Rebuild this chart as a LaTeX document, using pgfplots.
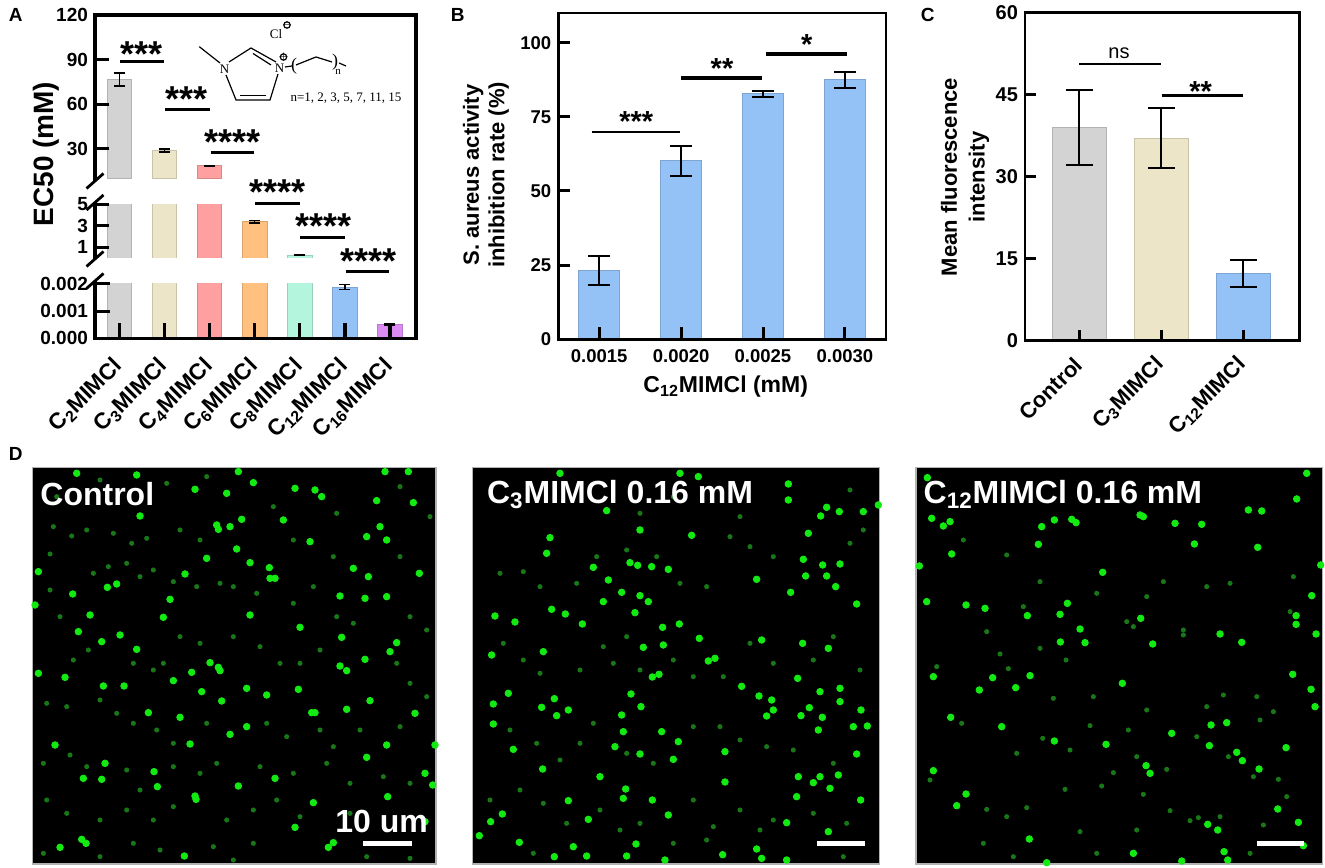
\documentclass[border=0pt]{standalone}
\usepackage{fontspec}
\setmainfont{Liberation Sans}
\newfontfamily\seriffont{Liberation Serif}
\usepackage{pgfplots}
\pgfplotsset{compat=1.18}
\definecolor{cgray}{HTML}{D3D3D3}
\definecolor{cbeige}{HTML}{EDE5C8}
\definecolor{cred}{HTML}{FFA0A0}
\definecolor{corange}{HTML}{FFC080}
\definecolor{cmint}{HTML}{B3F5DD}
\definecolor{cblue}{HTML}{94C2F7}
\definecolor{cpurple}{HTML}{DA8CF2}
\definecolor{gbright}{HTML}{12EA12}
\definecolor{gdim}{HTML}{187818}
\newcommand\fs[1]{\fontsize{#1}{#1}\selectfont}
\pgfplotsset{
  base/.style={scale only axis, anchor=south west, axis on top, tick align=inside,
    xtick pos=bottom, ytick pos=left,
    clip mode=global, major tick style={black, line width=1.5pt},
    major x tick style={draw=none},
    /pgf/number format/assume math mode=true, scaled y ticks=false, scaled x ticks=false,
    minor tick num=0},
  errA/.style={error bars/.cd, y dir=both, y explicit, error bar style={black,line width=0.75pt},
    error mark options={rotate=90,black,line width=0.75pt,mark size=2.75pt}},
  errB/.style={error bars/.cd, y dir=both, y explicit, error bar style={black,line width=1pt},
    error mark options={rotate=90,black,line width=1pt,mark size=5.4pt}},
  errC/.style={error bars/.cd, y dir=both, y explicit, error bar style={black,line width=1pt},
    error mark options={rotate=90,black,line width=1pt,mark size=6.75pt}},
  Aseg/.style={base, width=160.5pt, xmin=-0.543, xmax=6.577, ybar, bar width=0.54, bar shift=0pt,
    axis line style={draw=none}, major tick length=7pt,
    yticklabel style={font=\bfseries\fs{9.5}}},
  micro/.style={base, width=203.5pt, height=198.35pt, ymin=112, ymax=1302, y dir=reverse,
    ticks=none, axis line style={gray!60, line width=0.6pt},
    axis background/.style={fill=black}, clip=true},
  bright/.style={only marks, mark=*, mark size=1.65pt, color=gbright},
  dim/.style={only marks, mark=*, mark size=1.05pt, color=gdim},
}
\newcommand\bE[4]{\addplot[fill=#1, draw=#1!85!black, line width=0.4pt, errA] coordinates {(#2,#3) +- (0,#4)};}
\newcommand\bN[3]{\addplot[fill=#1, draw=#1!85!black, line width=0.4pt] coordinates {(#2,#3)};}
\begin{document}
\begin{tikzpicture}
\path[use as bounding box] (0,0) rectangle (662.5pt,433.5pt);
% ---------------- Panel A (broken axis) ----------------
\begin{axis}[Aseg, at={(47.5pt,344.25pt)}, height=81.75pt, ymin=10, ymax=120,
  ytick={30,60,90,120}, xtick=\empty]
\bE{cgray}{0}{76.5}{4.4}
\bE{cbeige}{1}{28.9}{1.0}
\bE{cred}{2}{18.5}{0.3}
\end{axis}
\begin{axis}[Aseg, at={(47.5pt,304.5pt)}, height=26.75pt, ymin=0, ymax=5,
  restrict y to domain*=0:6, ytick={1,3,5}, xtick=\empty]
\bN{cgray}{0}{76.5}
\bN{cbeige}{1}{28.9}
\bN{cred}{2}{18.5}
\bE{corange}{3}{3.4}{0.12}
\bE{cmint}{4}{0.25}{0.02}
\end{axis}
\begin{axis}[Aseg, at={(47.5pt,264.35pt)}, height=27.15pt, ymin=0, ymax=0.002,
  restrict y to domain*=0:0.0025,
  ytick={0,0.001,0.002}, yticklabels={0.000,0.001,0.002},
  xtick={0,1,2,3,4,5,6}, major tick length=7.5pt,
  xticklabels={C\textsubscript{2}MIMCl,C\textsubscript{3}MIMCl,C\textsubscript{4}MIMCl,C\textsubscript{6}MIMCl,C\textsubscript{8}MIMCl,C\textsubscript{12}MIMCl,C\textsubscript{16}MIMCl},
  xticklabel style={rotate=45, anchor=east, font=\bfseries\fs{11.3}, yshift=-3pt}]
\bN{cgray}{0}{76.5}
\bN{cbeige}{1}{28.9}
\bN{cred}{2}{18.5}
\bN{corange}{3}{3.4}
\bN{cmint}{4}{0.25}
\bE{cblue}{5}{0.00189}{0.0001}
\bE{cpurple}{6}{0.00052}{0.00003}
\end{axis}
% ---------------- Panel B ----------------
\begin{axis}[base, at={(279.15pt,263.85pt)}, width=163.75pt, height=163.15pt,
  xmin=-0.5, xmax=3.5, ymin=0, ymax=110, ybar, bar width=0.5, bar shift=0pt,
  axis line style={line width=1.3pt}, major tick length=6pt,
  ytick={0,25,50,75,100}, xtick={0,1,2,3}, xticklabels={0.0015,0.0020,0.0025,0.0030},
  ticklabel style={font=\bfseries\fs{9.25}}, xticklabel style={yshift=4.5pt}]
\addplot[fill=cblue, draw=cblue!85!black, line width=0.4pt, errB] coordinates {
  (0,23.1) +- (0,4.9) (1,60.2) +- (0,5.1) (2,82.8) +- (0,1.0) (3,87.5) +- (0,2.7)};
\end{axis}
% ---------------- Panel C ----------------
\begin{axis}[base, at={(512.5pt,263.15pt)}, width=137.1pt, height=164.1pt,
  xmin=-0.66, xmax=2.68, ymin=0, ymax=60, ybar, bar width=0.66, bar shift=0pt,
  axis line style={line width=1.3pt}, major tick length=5.6pt,
  ytick={0,15,30,45,60}, xtick={0,1,2},
  xticklabels={Control,C\textsubscript{3}MIMCl,C\textsubscript{12}MIMCl},
  yticklabel style={font=\bfseries\fs{10}},
  xticklabel style={rotate=45, anchor=east, font=\bfseries\fs{11}, yshift=-3pt}]
\addplot[fill=cgray, draw=cgray!85!black, line width=0.4pt, errC] coordinates {(0,38.95) +- (0,6.85)};
\addplot[fill=cbeige, draw=cbeige!85!black, line width=0.4pt, errC] coordinates {(1,37.0) +- (0,5.5)};
\addplot[fill=cblue, draw=cblue!85!black, line width=0.4pt, errC] coordinates {(2,12.25) +- (0,2.5)};
\end{axis}
% ---------------- Panel D images ----------------
\begin{axis}[micro, at={(16.35pt,1.5pt)}, width=201.65pt, xmin=98, xmax=1308]
\addplot[dim] coordinates {(160,290)(215,318)(260,300)(340,310)(440,325)(395,340)(150,372)(325,410)(420,440)(460,420)(520,455)(590,470)(660,460)(700,470)(770,490)(880,520)(940,470)(1010,560)(1060,580)(1230,560)(1280,600)(180,560)(220,690)(265,660)(400,700)(460,720)(490,700)(540,620)(600,640)(700,620)(780,650)(840,700)(900,700)(960,660)(1190,700)(1230,760)(1280,800)(140,820)(200,830)(300,810)(350,850)(400,880)(470,900)(520,940)(620,880)(800,880)(860,920)(960,900)(1000,950)(1080,900)(1200,890)(130,1000)(210,975)(260,1010)(380,1020)(420,1080)(520,1010)(600,1030)(650,1000)(780,1010)(880,1030)(980,1000)(1050,1060)(1150,1040)(1230,1060)(140,1110)(200,1150)(300,1170)(380,1140)(460,1170)(520,1130)(680,1170)(760,1140)(830,1110)(900,1160)(1050,1150)(130,1270)(300,1280)(400,1240)(480,1260)(640,1250)(700,1290)(760,1240)(1100,1280)(1230,1285)(170,200)(300,150)(500,160)(620,140)(820,230)(1010,250)(1200,170)(1290,260)(540,300)(600,330)(880,330)(1000,380)(1200,380)(150,480)(280,430)(380,400)};
\addplot[bright] coordinates {(230,130)(410,135)(715,125)(1155,125)(1225,125)(585,178)(760,158)(885,175)(965,200)(1130,212)(1240,218)(680,190)(945,180)(420,258)(725,268)(850,270)(650,285)(655,298)(690,290)(1140,290)(1160,330)(1100,320)(930,335)(710,357)(620,385)(750,398)(115,425)(555,432)(808,413)(810,445)(825,445)(1060,415)(1105,440)(1258,430)(350,462)(322,472)(218,492)(510,508)(1020,498)(1095,505)(1160,500)(270,555)(490,562)(750,555)(105,525)(235,605)(360,615)(305,635)(410,658)(900,592)(1025,622)(1190,638)(1170,665)(115,730)(195,742)(310,768)(372,768)(520,752)(630,698)(655,712)(660,722)(575,727)(605,785)(740,775)(800,795)(895,778)(1020,708)(1040,722)(1095,688)(1110,812)(1040,838)(935,848)(945,848)(1245,850)(445,848)(540,862)(665,813)(690,913)(740,890)(570,942)(165,945)(1305,945)(1160,945)(315,1000)(305,1048)(250,1045)(462,1025)(472,1070)(825,1045)(715,1068)(1100,982)(1275,1030)(585,1098)(588,1108)(940,1118)(1163,1100)(1298,1065)(180,1252)(245,1228)(258,1240)(553,1278)(885,1192)(985,1252)(1000,1238)(1275,1175)};
\end{axis}
\begin{axis}[micro, at={(236.15pt,1.5pt)}, xmin=97, xmax=1318]
\addplot[dim] coordinates {(180,430)(250,425)(300,470)(410,460)(470,380)(560,360)(650,380)(720,460)(800,470)(870,320)(930,350)(1000,380)(1230,340)(1270,300)(190,640)(250,690)(300,730)(420,720)(490,650)(520,700)(560,620)(600,720)(700,690)(760,740)(850,740)(930,640)(1000,700)(1120,690)(1180,620)(1260,720)(210,900)(290,940)(360,990)(420,940)(460,880)(560,970)(640,1000)(760,890)(840,890)(900,930)(980,950)(1060,960)(1180,1000)(240,1080)(310,1120)(380,1180)(480,1140)(540,1200)(600,1180)(760,1110)(820,1190)(900,1140)(960,1200)(1000,1170)(1120,1150)(1220,1180)(150,1110)(280,1270)(700,1240)(800,1230)(1210,1280)(600,250)(700,200)(900,260)(1230,180)};
\addplot[bright] coordinates {(360,130)(720,130)(775,140)(1045,162)(1045,210)(1270,245)(1315,225)(1160,232)(1198,245)(1142,258)(500,242)(600,300)(755,316)(330,323)(320,370)(1105,310)(1090,388)(1148,405)(1200,402)(1160,438)(1097,438)(1187,470)(1052,487)(950,448)(570,398)(593,406)(685,418)(635,410)(460,412)(505,450)(545,487)(600,497)(625,515)(490,515)(335,538)(376,552)(165,558)(225,576)(427,582)(585,548)(668,592)(718,582)(778,625)(965,630)(1088,640)(1165,655)(1250,522)(155,675)(310,665)(610,652)(670,645)(805,693)(825,685)(637,741)(657,733)(1073,745)(205,790)(160,822)(343,806)(305,832)(350,857)(385,840)(573,792)(603,830)(545,855)(905,769)(957,798)(995,810)(980,858)(1000,840)(1108,833)(1083,857)(1140,785)(1200,775)(1200,815)(1147,862)(1263,840)(1282,888)(1240,890)(1135,900)(160,882)(550,905)(665,905)(715,935)(525,950)(600,972)(700,988)(855,965)(1250,972)(220,958)(308,1017)(480,1040)(855,1056)(1075,1040)(1120,1058)(1140,1040)(1195,1035)(1170,1075)(1070,1100)(1262,1110)(385,1112)(557,1077)(550,1105)(637,1110)(685,1155)(187,1152)(152,1175)(445,1168)(118,1217)(238,1237)(400,1250)(588,1242)(1165,1205)(1040,1178)(343,1280)(440,1278)(560,1278)(675,1290)(848,1274)(950,1257)(965,1285)(1040,1290)};
\end{axis}
\begin{axis}[micro, at={(458pt,1.5pt)}, width=203.35pt, xmin=108, xmax=1328]
\addplot[dim] coordinates {(250,330)(380,375)(480,455)(430,530)(650,490)(740,575)(760,590)(800,500)(850,455)(980,470)(1050,460)(1240,440)(1230,545)(910,600)(910,615)(320,605)(360,672)(385,716)(480,655)(558,690)(170,710)(520,805)(640,800)(800,840)(980,830)(1030,795)(1130,800)(1180,845)(1140,870)(245,880)(410,970)(488,925)(570,960)(630,887)(745,900)(770,980)(665,1068)(700,1028)(860,1018)(950,920)(1045,980)(1195,1048)(1120,1040)(150,1050)(320,1138)(380,1160)(440,1133)(555,1078)(600,1205)(770,1200)(790,1093)(870,1142)(930,1172)(955,1163)(1150,1185)(1020,1160)(1220,1100)(310,1240)(400,1280)(650,1270)(1110,1270)};
\addplot[bright] coordinates {(142,143)(1280,130)(1250,207)(780,255)(790,260)(588,278)(575,268)(523,270)(485,290)(1105,240)(1145,243)(885,280)(965,283)(190,288)(210,275)(155,265)(475,343)(1133,352)(943,342)(215,372)(118,408)(668,427)(1322,405)(140,515)(258,525)(315,535)(562,520)(540,553)(442,557)(782,565)(600,597)(541,636)(615,638)(818,642)(1085,637)(1020,612)(1248,583)(1248,557)(1295,497)(1308,612)(160,740)(338,743)(450,737)(727,760)(407,773)(298,780)(1238,733)(1293,778)(212,862)(365,890)(875,910)(993,885)(988,947)(1040,878)(1070,967)(1087,992)(1218,953)(678,943)(523,933)(1305,830)(160,1022)(798,1007)(810,1030)(1137,1017)(258,1092)(230,1127)(1193,1137)(983,1183)(1013,1200)(1255,1177)(448,1227)(760,1270)(1032,1265)(1270,1247)(500,1298)(905,1293)(1043,1290)};
\end{axis}
% ---------------- annotations in pixel coordinates ----------------
\begin{scope}[x=0.5pt,y=-0.5pt,shift={(0pt,433.5pt)}]
\node[font=\bfseries\fs{9.5}] at (15.7,15) {A};
\node[font=\bfseries\fs{9.5}] at (457.7,15) {B};
\node[font=\bfseries\fs{9.5}] at (927.7,15) {C};
\node[font=\bfseries\fs{9.5}] at (15.7,454) {D};
\draw[line width=1.6pt] (95,181) -- (95,15) -- (416,15) -- (416,338.3) -- (95,338.3) -- (95,281);
\draw[line width=1.6pt] (95,202.5) -- (95,259);
\foreach \c in {181,202.5,259,281} \draw[line width=1.4pt] (86.5,\c+7.5) -- (103.5,\c-7.5);
% inward x ticks
\foreach \k in {0,...,6} \draw[line width=1.6pt] ({119.5+45.08*\k},338.3) -- ({119.5+45.08*\k},323);
\foreach \x in {599.2,681.1,763,844.8} \draw[line width=1.5pt] (\x,339.3) -- (\x,326.7);
\foreach \x in {1079.2,1161.3,1243.4} \draw[line width=1.5pt] (\x,340.7) -- (\x,330);
\node[rotate=90, font=\bfseries\fs{14}] at (46,154) {EC50 (mM)};
\foreach \xa/\xb/\yl/\xs/\ys/\st in {120/164.3/61.7/142/45.8/{***},165/210/109.3/187/90.8/{***},210.7/254.3/152.7/232.5/134/{****},255/300/203.3/278/184/{****},300/345/237.7/323.5/218/{****},346/389/271.7/368.7/252.5/{****}}{
  \draw[line width=1.6pt] (\xa,\yl) -- (\xb,\yl);
  \node[anchor=base, font=\bfseries\fs{18}, inner sep=0pt] at (\xs,\ys+20.7) {\st};
}
\begin{scope}[line width=0.6pt]
\draw (199.3,46.7) -- (220,63);
\draw (229,62) -- (251,48) -- (276,62);
\draw (253,53.5) -- (271,65);
\draw (278,74) -- (270,100) -- (236,100) -- (226,75);
\draw (240,95.5) -- (266,95.5);
\draw (285,67) -- (292,66);
\draw (296,65) -- (316,57) -- (332,62);
\draw (339,63) -- (346,66);
\draw (287,25) circle (3.2);
\draw (283.5,57) circle (3.2);
\end{scope}
\node[font=\seriffont\fs{6.5}, inner sep=0pt] at (224.5,69.5) {N};
\node[font=\seriffont\fs{6.5}, inner sep=0pt] at (279.5,68.5) {N};
\node[font=\seriffont\fs{6.5}, inner sep=0pt] at (276,34) {Cl};
\node[font=\fs{4.5}, inner sep=0pt] at (287,25) {$-$};
\node[font=\fs{4.5}, inner sep=0pt] at (283.5,57) {$+$};
\node[font=\seriffont\fs{9}, inner sep=0pt] at (294,66) {(};
\node[font=\seriffont\fs{9}, inner sep=0pt] at (335,62) {)};
\node[font=\seriffont\fs{5.5}, inner sep=0pt] at (338,72) {n};
\node[font=\seriffont\fs{6.5}, inner sep=0pt] at (346,98) {n=1, 2, 3, 5, 7, 11, 15};
\node[rotate=90, align=center, font=\bfseries\fontsize{11}{12.8}\selectfont] at (486,175) {S. aureus activity\\inhibition rate (\%)};
\node[anchor=base, font=\bfseries\fs{11.5}] at (725.7,393) {C\textsubscript{12}MIMCl (mM)};
\draw[line width=1.1pt] (591.7,131.7) -- (680,131.7);
\draw[line width=2pt] (680.7,77.7) -- (762.3,77.7);
\draw[line width=2pt] (766,54.3) -- (847,54.3);
\node[anchor=base, font=\bfseries\fs{14.5}, inner sep=0pt] at (636.3,115+16.7) {***};
\node[anchor=base, font=\bfseries\fs{14.5}, inner sep=0pt] at (722,61.7+16.7) {**};
\node[anchor=base, font=\bfseries\fs{14.5}, inner sep=0pt] at (806.7,38.3+16.7) {*};
\node[rotate=90, align=center, font=\bfseries\fontsize{11}{13.8}\selectfont] at (965,177) {Mean fluorescence\\intensity};
\draw[line width=1.1pt] (1079.3,64.3) -- (1161,64.3);
\draw[line width=1.8pt] (1161.7,95.7) -- (1242.7,95.7);
\node[anchor=base, font=\fs{10}, inner sep=0pt] at (1119,58.2) {ns};
\node[anchor=base, font=\bfseries\fs{14.5}, inner sep=0pt] at (1200.7,85+16.7) {**};
\node[anchor=base west, inner sep=0pt, text=white, font=\bfseries\fs{16}] at (40,506) {Control};
\node[anchor=base west, inner sep=0pt, text=white, font=\bfseries\fs{16}] at (486.7,503.3) {C\textsubscript{3}MIMCl 0.16 mM};
\node[anchor=base west, inner sep=0pt, text=white, font=\bfseries\fs{16}] at (923.3,503.3) {C\textsubscript{12}MIMCl 0.16 mM};
\node[anchor=base west, inner sep=0pt, text=white, font=\bfseries\fs{16}] at (335,832.7) {10 um};
\draw[white, line width=2.5pt] (363,843) -- (412,843);
\draw[white, line width=2.5pt] (816.7,843) -- (865,843);
\draw[white, line width=2.5pt] (1256.7,843) -- (1304,843);
\end{scope}
\end{tikzpicture}
\end{document}
